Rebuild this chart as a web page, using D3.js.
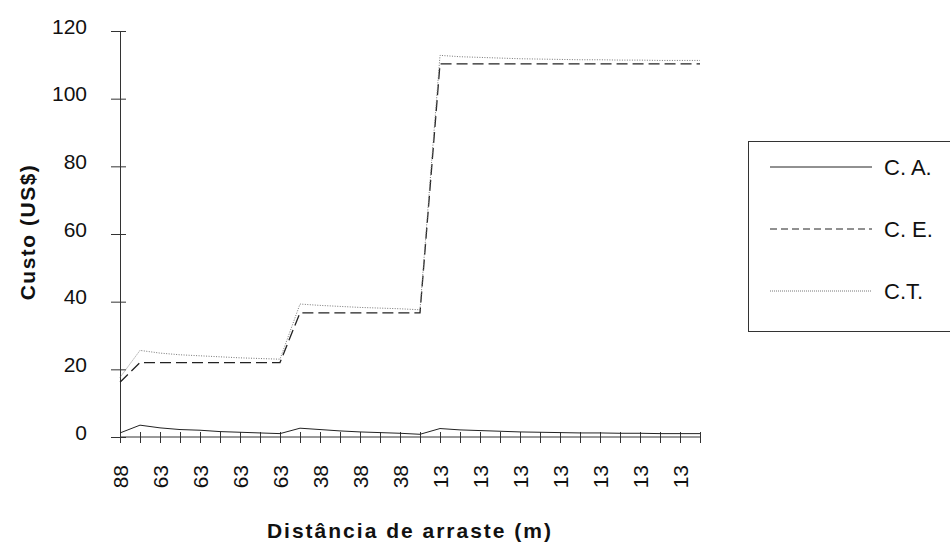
<!DOCTYPE html>
<html>
<head>
<meta charset="utf-8">
<script src="https://cdn.jsdelivr.net/npm/d3@7"></script>
<style>
  body { margin: 0; background: #fff; }
  text { font-family: "Liberation Sans", Arial, sans-serif; fill: #111; }
</style>
</head>
<body>
<script>
// Width, Height
var w = 950;
var h = 549;

// distance of skidding (m) for every point, and the three cost series (US$)
var distancias = [88, 63, 63, 63, 63, 63, 63, 63, 63, 38, 38, 38, 38, 38, 38, 38,
                  13, 13, 13, 13, 13, 13, 13, 13, 13, 13, 13, 13, 13, 13];
var custoCA = [1.2, 3.5, 2.7, 2.2, 2.0, 1.6, 1.4, 1.2, 1.0, 2.6, 2.2, 1.8, 1.5, 1.3, 1.1, 0.8,
               2.5, 2.1, 1.9, 1.7, 1.5, 1.4, 1.3, 1.2, 1.2, 1.1, 1.1, 1.0, 1.0, 1.0];
var custoCE = [16.2, 22, 22, 22, 22, 22, 22, 22, 22, 36.7, 36.7, 36.7, 36.7, 36.7, 36.7, 36.7,
               110.3, 110.3, 110.3, 110.3, 110.3, 110.3, 110.3, 110.3, 110.3, 110.3, 110.3, 110.3, 110.3, 110.3];
var custoCT = [17.6, 25.6, 24.8, 24.3, 24.0, 23.7, 23.4, 23.2, 23.0, 39.3, 38.9, 38.6, 38.3, 38.1, 37.9, 37.6,
               112.8, 112.4, 112.2, 112.0, 111.8, 111.7, 111.6, 111.5, 111.5, 111.4, 111.4, 111.3, 111.3, 111.3];
var yTicks = [0, 20, 40, 60, 80, 100, 120];
var nomes = ["C. A.", "C. E.", "C.T."];

var series = [
  { nome: nomes[0], valores: custoCA, dash: null, legDash: null, cor: "#222", larg: 1 },
  { nome: nomes[1], valores: custoCE, dash: "11,5", legDash: "7,4", cor: "#222", larg: 1.3 },
  { nome: nomes[2], valores: custoCT, dash: "1,1.5", legDash: "1,1", cor: "#777", larg: 1 }
];

var svg = d3.select("body")
            .append("svg")
            .attr("width", w)
            .attr("height", h);

/*** Scales ***/
var xScale = d3.scalePoint()
               .domain(d3.range(distancias.length))
               .range([120, 700]);
var yScale = d3.scaleLinear()
               .domain([0, 120])
               .range([437, 31]);

/*** Axes ***/
var xAxis = d3.axisBottom(xScale)
              .tickSize(6)
              .tickFormat(function(i) { return i % 2 === 0 ? distancias[i] : ""; });
var yAxis = d3.axisLeft(yScale)
              .tickValues(yTicks)
              .tickSize(6);

var gx = svg.append("g")
   .attr("class", "xaxis")
   .attr("transform", "translate(0," + yScale(0) + ")")
   .call(xAxis);
gx.select(".domain").attr("d", "M" + xScale(0) + ",0H" + (xScale(distancias.length - 1) + 1));
gx.selectAll(".tick line").attr("y1", -5).attr("y2", 6).attr("stroke", "#333");
gx.selectAll(".tick text")
  .attr("transform", "rotate(-90)")
  .attr("text-anchor", "end")
  .attr("x", -28)
  .attr("y", 0)
  .attr("dy", "0.36em")
  .style("font-size", "21px");

var gy = svg.append("g")
   .attr("class", "yaxis")
   .attr("transform", "translate(" + xScale(0) + ",0)")
   .call(yAxis);
gy.selectAll(".tick line").attr("x1", -9).attr("x2", 6).attr("stroke", "#333");
gy.selectAll(".tick text")
  .attr("x", -33)
  .attr("dy", "0.1em")
  .style("font-size", "21px");

svg.selectAll(".domain").attr("stroke", "#333");

/*** Lines ***/
var linha = d3.line()
              .x(function(d, i) { return xScale(i); })
              .y(function(d) { return yScale(d); });

svg.selectAll(".serie")
   .data(series)
   .enter()
   .append("path")
   .attr("class", "serie")
   .attr("fill", "none")
   .attr("stroke", function(d) { return d.cor; })
   .attr("stroke-width", function(d) { return d.larg; })
   .attr("stroke-dasharray", function(d) { return d.dash; })
   .attr("d", function(d) { return linha(d.valores); });

/*** Axis titles ***/
svg.append("text")
   .attr("transform", "translate(27,232)rotate(-90)")
   .attr("text-anchor", "middle")
   .attr("dy", "0.36em")
   .style("font-size", "21px")
   .style("font-weight", "bold")
   .style("letter-spacing", "1.5px")
   .text("Custo (US$)");

svg.append("text")
   .attr("x", 410)
   .attr("y", 530)
   .attr("dy", "0.36em")
   .attr("text-anchor", "middle")
   .style("font-size", "21px")
   .style("font-weight", "bold")
   .style("letter-spacing", "2px")
   .text("Distância de arraste (m)");

/*** Legend ***/
var leg = svg.append("g").attr("transform", "translate(748,141)");
leg.append("rect")
   .attr("x", 0.5).attr("y", 0.5)
   .attr("width", 220).attr("height", 190)
   .attr("fill", "none")
   .attr("stroke", "#333");

var item = leg.selectAll(".item")
   .data(series)
   .enter()
   .append("g")
   .attr("class", "item")
   .attr("transform", function(d, i) { return "translate(0," + (26 + i * 62) + ")"; });
item.append("line")
    .attr("x1", 22).attr("x2", 124)
    .attr("stroke", function(d) { return d.cor; })
    .attr("stroke-width", 1)
    .attr("stroke-dasharray", function(d) { return d.legDash; });
item.append("text")
    .attr("x", 136)
    .attr("dy", "0.36em")
    .style("font-size", "22px")
    .text(function(d) { return d.nome; });
</script>
</body>
</html>
